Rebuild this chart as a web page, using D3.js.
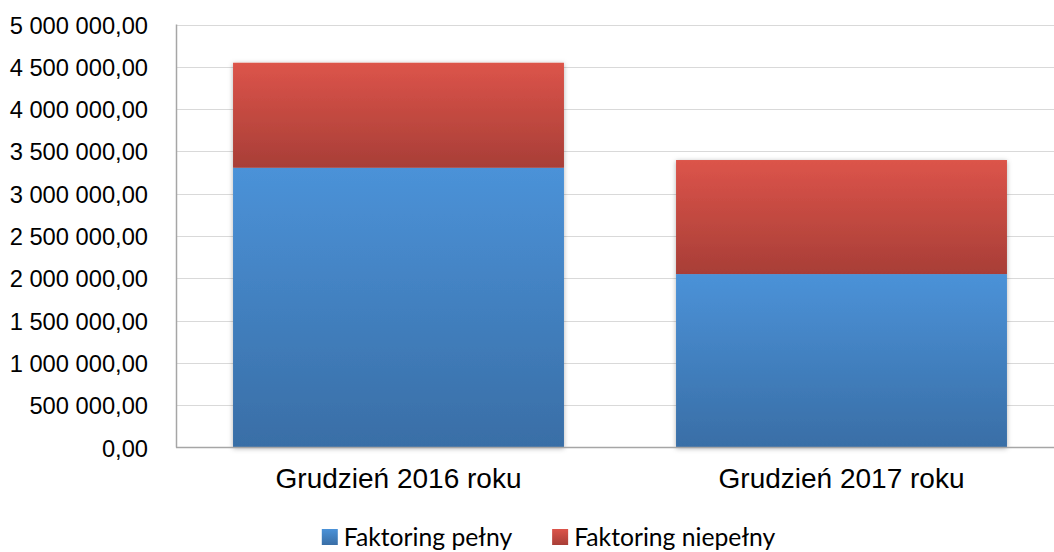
<!DOCTYPE html>
<html>
<head>
<meta charset="utf-8">
<script src="https://cdn.jsdelivr.net/npm/d3@7"></script>
<style>
  body { margin: 0; background: #fff; }
  svg { display: block; font-family: Lato, "Open Sans", sans-serif; }
  .grid line { stroke: #d9d9d9; stroke-width: 1; }
  .tick text { fill: #000; }
</style>
</head>
<body>
<div id="chart"></div>
<script>
// data
var categories = ["Grudzień 2016 roku", "Grudzień 2017 roku"];
var seriesNames = ["Faktoring pełny", "Faktoring niepełny"];
var pelny = [3307000, 2050000];
var niepelny = [1241000, 1348000];
var yTicks = [0, 500000, 1000000, 1500000, 2000000, 2500000, 3000000, 3500000, 4000000, 4500000, 5000000];

var width = 1054,
    height = 552;

var svg = d3.select("#chart").append("svg")
    .attr("width", width)
    .attr("height", height);

var pl = d3.formatLocale({decimal: ",", thousands: "\u00a0", grouping: [3], currency: ["", ""]});
var fmt = pl.format(",.2f");

var x = d3.scaleBand()
    .domain(categories)
    .range([177, 1063])
    .paddingInner(0.253)
    .paddingOuter(0.1265);
var y = d3.scaleLinear()
    .domain([0, 5000000])
    .range([447.5, 24.5]);

// gradients + shadow
var defs = svg.append("defs");
var grads = [
    {id: "gBlue", top: "#4b92d8", bottom: "#396ea6"},
    {id: "gRed", top: "#dc544a", bottom: "#a83e37"}
];
grads.forEach(function(g) {
    var lg = defs.append("linearGradient").attr("id", g.id)
        .attr("x1", 0).attr("y1", 0).attr("x2", 0).attr("y2", 1);
    lg.append("stop").attr("offset", "0%").attr("stop-color", g.top);
    lg.append("stop").attr("offset", "100%").attr("stop-color", g.bottom);
});
defs.append("filter").attr("id", "shadow")
    .attr("x", "-10%").attr("y", "-10%").attr("width", "120%").attr("height", "120%")
  .append("feDropShadow")
    .attr("dx", 0).attr("dy", 1).attr("stdDeviation", 2.5)
    .attr("flood-color", "#000").attr("flood-opacity", 0.3);

// gridlines
svg.append("g").attr("class", "grid")
    .selectAll("line")
    .data(yTicks.slice(1))
    .enter().append("line")
        .attr("x1", 177).attr("x2", width)
        .attr("y1", function(d) { return Math.round(y(d)) + 0.5; })
        .attr("y2", function(d) { return Math.round(y(d)) + 0.5; });

// bars
var stacked = d3.stack().keys([0, 1])
    .value(function(d, k) { return d[k]; })(categories.map(function(c, i) { return [pelny[i], niepelny[i]]; }));

var fills = ["url(#gBlue)", "url(#gRed)"];
var barGroup = svg.append("g").attr("filter", "url(#shadow)");
stacked.forEach(function(layer, li) {
    barGroup.selectAll(".bar-" + li)
        .data(layer)
        .enter().append("rect").attr("class", "bar-" + li)
            .attr("x", function(d, i) { return x(categories[i]); })
            .attr("y", function(d) { return y(d[1]); })
            .attr("width", x.bandwidth())
            .attr("height", function(d) { return y(d[0]) - y(d[1]); })
            .attr("fill", fills[li]);
});

// axes
var yAxis = svg.append("g")
    .attr("transform", "translate(177,0)")
    .call(d3.axisLeft(y).tickValues(yTicks).tickSize(0).tickPadding(29).tickFormat(fmt));
yAxis.select(".domain").remove();
yAxis.selectAll(".tick text").attr("font-size", "23.7px").attr("dy", "0.36em");

svg.append("line")
    .attr("x1", 176.5).attr("x2", 176.5)
    .attr("y1", y(5000000)).attr("y2", y(0))
    .attr("stroke", "#a6a6a6").attr("stroke-width", 1.5);
svg.append("line")
    .attr("x1", 176).attr("x2", width)
    .attr("y1", y(0)).attr("y2", y(0))
    .attr("stroke", "#a6a6a6").attr("stroke-width", 1.5);

var xAxis = svg.append("g")
    .attr("transform", "translate(0," + y(0) + ")")
    .call(d3.axisBottom(x).tickSize(0).tickPadding(0));
xAxis.select(".domain").remove();
xAxis.selectAll(".tick text")
    .attr("font-size", "28px")
    .attr("y", 40.5).attr("dy", 0);

// legend
var legend = svg.append("g");
var items = legend.selectAll(".leg")
    .data(seriesNames)
    .enter().append("g").attr("class", "leg");
items.append("rect")
    .attr("width", 16).attr("height", 16)
    .attr("y", 529)
    .attr("fill", function(d, i) { return fills[i]; });
items.append("text")
    .attr("x", 22).attr("y", 545.5)
    .attr("font-size", "24.7px")
    .text(function(d) { return d; });
var lx = 0, widths = [];
items.each(function() {
    widths.push(22 + d3.select(this).select("text").node().getComputedTextLength());
});
var gap = 40;
var total = d3.sum(widths) + gap * (widths.length - 1);
lx = 548.5 - total / 2;
items.attr("transform", function(d, i) {
    var t = "translate(" + lx + ",0)";
    lx += widths[i] + gap;
    return t;
});
</script>
</body>
</html>
